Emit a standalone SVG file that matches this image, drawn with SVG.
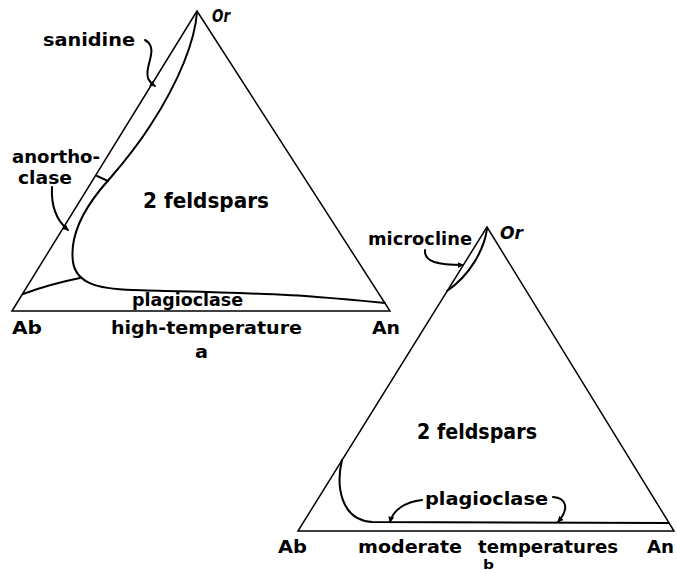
<svg xmlns="http://www.w3.org/2000/svg" width="677" height="573" viewBox="0 0 677 573">
<style>
.bg{fill:#fff}
.edge{fill:none;stroke:#000;stroke-width:1.5;stroke-linejoin:miter}
.curve{fill:none;stroke:#000;stroke-width:2;stroke-linecap:round}
.arrow{fill:none;stroke:#000;stroke-width:2;stroke-linecap:round;marker-end:url(#ah)}
text{font-family:"DejaVu Sans","Liberation Sans",sans-serif;font-weight:bold;fill:#000}
.lbl{font-size:18px}
.big{font-size:21px}
.or{font-size:17px;font-style:italic}
.sm{font-size:13px}
</style>
<defs>
<marker id="ah" viewBox="0 0 8 8" refX="7" refY="4" markerWidth="6" markerHeight="6" orient="auto" markerUnits="userSpaceOnUse">
<path d="M0,0 L8,4 L0,8 Z" fill="#000"/>
</marker>
</defs>
<rect class="bg" x="0" y="0" width="677" height="573"/>

<g id="diagram-a">
<path class="edge" d="M12,311 L197,11 L390,311 Z"/>
<path class="curve" d="M197,12 C195,40 180,80 150,126 C130,157 115,172 100,190 C80,215 70,240 73,262 C76,282 95,289 133,290 C200,292 270,293 317,297 C345,299 365,301 385,303"/>
<path class="curve" d="M80,278 Q50,284 23,294"/>
<path class="curve" d="M97,176 L108,181"/>
<text class="or" x="212" y="22" textLength="18" lengthAdjust="spacingAndGlyphs">Or</text>
<text class="lbl" x="43" y="46" textLength="92" lengthAdjust="spacingAndGlyphs">sanidine</text>
<text class="lbl" x="12" y="163" textLength="88" lengthAdjust="spacingAndGlyphs">anortho-</text>
<text class="lbl" x="18" y="184" textLength="54" lengthAdjust="spacingAndGlyphs">clase</text>
<text class="big" x="143" y="208" textLength="126" lengthAdjust="spacingAndGlyphs">2 feldspars</text>
<text class="lbl" x="132" y="306" textLength="111" lengthAdjust="spacingAndGlyphs">plagioclase</text>
<text class="lbl" x="12" y="334" textLength="30" lengthAdjust="spacingAndGlyphs">Ab</text>
<text class="lbl" x="111" y="334" textLength="191" lengthAdjust="spacingAndGlyphs">high-temperature</text>
<text class="lbl" x="372" y="334" textLength="28" lengthAdjust="spacingAndGlyphs">An</text>
<text class="lbl" x="195" y="358" textLength="13" lengthAdjust="spacingAndGlyphs">a</text>
</g>

<g id="diagram-b">
<path class="edge" d="M298,531 L487,227 L674,531 Z"/>
<path class="curve" d="M487,229 C484,250 470,275 447,291"/>
<path class="curve" d="M342,460 C336,485 340,520 372,522 L669,523"/>
<text class="or" x="500" y="239" textLength="23" lengthAdjust="spacingAndGlyphs">Or</text>
<text class="lbl" x="368" y="245" textLength="104" lengthAdjust="spacingAndGlyphs">microcline</text>
<text class="big" x="417" y="439" textLength="120" lengthAdjust="spacingAndGlyphs">2 feldspars</text>
<text class="lbl" x="425" y="505" textLength="123" lengthAdjust="spacingAndGlyphs">plagioclase</text>
<text class="lbl" x="278" y="553" textLength="29" lengthAdjust="spacingAndGlyphs">Ab</text>
<text class="lbl" x="358" y="553" textLength="104" lengthAdjust="spacingAndGlyphs">moderate</text>
<text class="lbl" x="478" y="553" textLength="140" lengthAdjust="spacingAndGlyphs">temperatures</text>
<text class="lbl" x="647" y="553" textLength="27" lengthAdjust="spacingAndGlyphs">An</text>
<text class="sm" x="483" y="569" textLength="11" lengthAdjust="spacingAndGlyphs">b</text>
</g>

<g id="connectors">
<path class="arrow" d="M145,40 C156,46 150,58 148,68 C146,78 149,82 155,86"/>
<path class="arrow" d="M52,187 C51,205 56,220 68,230"/>
<path class="arrow" d="M425,250 C424,262 438,265 463,265"/>
<path class="arrow" d="M422,500 C405,502 393,510 390,522"/>
<path class="arrow" d="M553,497 C566,498 570,508 558,522"/>
</g>
</svg>
